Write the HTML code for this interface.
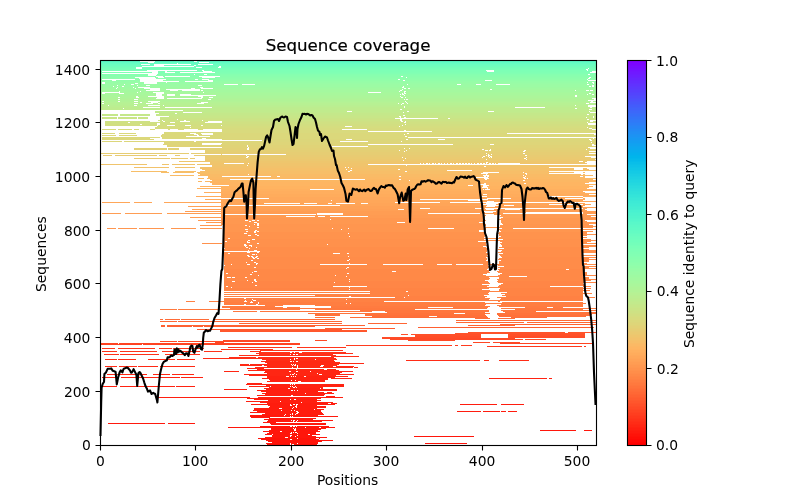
<!DOCTYPE html>
<html><head><meta charset="utf-8"><title>Sequence coverage</title>
<style>html,body{margin:0;padding:0;background:#fff}svg{display:block;will-change:transform}text{font-family:"DejaVu Sans","Liberation Sans",sans-serif;fill:#000}</style></head><body>
<svg width="800" height="500" viewBox="0 0 800 500">
<rect width="800" height="500" fill="#fff"/>
<g shape-rendering="crispEdges" fill="none" stroke-width="1">
<path stroke="#59f8c9" d="M100 60.5h496"/>
<path stroke="#5df9c7" d="M100 61.5h40M155 61.5h39M197 61.5h399"/>
<path stroke="#62fbc4" d="M100 62.5h48M154 62.5h45M209 62.5h387"/>
<path stroke="#66fcc2" d="M100 63.5h77M178 63.5h418"/>
<path stroke="#6bfdc0" d="M100 64.5h41M150 64.5h4M191 64.5h7M213 64.5h383"/>
<path stroke="#6dfdbf" d="M100 65.5h54M164 65.5h30M196 65.5h400"/>
<path stroke="#70febc" d="M100 66.5h42M194 66.5h25M221 66.5h375"/>
<path stroke="#74feba" d="M100 67.5h36M142 67.5h54M202 67.5h16M221 67.5h375"/>
<path stroke="#76ffb9" d="M100 68.5h36M142 68.5h446M589 68.5h7"/>
<path stroke="#79ffb8" d="M100 69.5h486M588 69.5h8"/>
<path stroke="#7dffb6" d="M100 70.5h47M197 70.5h5M204 70.5h282M494 70.5h93M588 70.5h8"/>
<path stroke="#7effb5" d="M100 71.5h2M158 71.5h7M167 71.5h36M212 71.5h275M494 71.5h98"/>
<path stroke="#80ffb4" d="M100 72.5h52M158 72.5h7M175 72.5h5M215 72.5h375"/>
<path stroke="#82ffb3" d="M100 73.5h2M158 73.5h438"/>
<path stroke="#86ffb0" d="M100 74.5h48M157 74.5h37M195 74.5h9M207 74.5h381M590 74.5h6"/>
<path stroke="#88ffaf" d="M100 75.5h48M156 75.5h440"/>
<path stroke="#8afeae" d="M100 76.5h56M163 76.5h2M190 76.5h9M220 76.5h181M403 76.5h193"/>
<path stroke="#8cfead" d="M100 77.5h35M155 77.5h3M164 77.5h38M215 77.5h191M407 77.5h182M591 77.5h5"/>
<path stroke="#8efeac" d="M100 78.5h39M156 78.5h432M590 78.5h6"/>
<path stroke="#90feab" d="M100 79.5h2M135 79.5h5M166 79.5h29M198 79.5h4M209 79.5h189M400 79.5h187M588 79.5h8"/>
<path stroke="#92fda9" d="M100 80.5h12M116 80.5h24M163 80.5h45M213 80.5h190M405 80.5h80M492 80.5h96"/>
<path stroke="#95fda8" d="M100 81.5h40M179 81.5h6M213 81.5h383"/>
<path stroke="#97fca7" d="M100 82.5h2M105 82.5h39M157 82.5h9M167 82.5h420M588 82.5h4M594 82.5h2"/>
<path stroke="#99fca6" d="M100 83.5h2M105 83.5h30M138 83.5h6M157 83.5h436M594 83.5h2"/>
<path stroke="#9bfba5" d="M100 84.5h24M125 84.5h6M134 84.5h90M238 84.5h4M255 84.5h152M408 84.5h49M461 84.5h15M481 84.5h15M510 84.5h77M589 84.5h7"/>
<path stroke="#9cfba4" d="M100 85.5h17M118 85.5h19M138 85.5h8M150 85.5h48M202 85.5h390M594 85.5h2"/>
<path stroke="#9cfba4" d="M100 86.5h13M114 86.5h8M124 86.5h279M404 86.5h185M591 86.5h1M594 86.5h2"/>
<path stroke="#9efaa2" d="M100 87.5h17M118 87.5h15M134 87.5h4M150 87.5h50M203 87.5h199M404 87.5h192"/>
<path stroke="#a0faa1" d="M100 88.5h16M117 88.5h18M136 88.5h8M160 88.5h31M195 88.5h6M213 88.5h191M406 88.5h2M410 88.5h186"/>
<path stroke="#a2f9a0" d="M100 89.5h50M160 89.5h6M200 89.5h202M403 89.5h87M492 89.5h104"/>
<path stroke="#a4f89f" d="M100 90.5h46M160 90.5h10M178 90.5h4M200 90.5h1M203 90.5h197M402 90.5h173M576 90.5h10M589 90.5h1M593 90.5h3"/>
<path stroke="#a4f89f" d="M100 91.5h19M120 91.5h20M141 91.5h258M400 91.5h4M406 91.5h190"/>
<path stroke="#a6f89d" d="M100 92.5h2M120 92.5h17M138 92.5h15M164 92.5h39M204 92.5h164M381 92.5h23M405 92.5h191"/>
<path stroke="#a8f79c" d="M100 93.5h2M105 93.5h14M124 93.5h32M164 93.5h238M403 93.5h1M406 93.5h183M591 93.5h5"/>
<path stroke="#a8f79c" d="M100 94.5h56M162 94.5h5M175 94.5h5M191 94.5h209M401 94.5h1M404 94.5h183M588 94.5h4M594 94.5h2"/>
<path stroke="#aaf69b" d="M100 95.5h56M162 95.5h5M175 95.5h5M216 95.5h188M405 95.5h170M577 95.5h19"/>
<path stroke="#acf59a" d="M100 96.5h36M138 96.5h10M164 96.5h34M203 96.5h197M401 96.5h174M577 96.5h19"/>
<path stroke="#acf59a" d="M100 97.5h18M120 97.5h16M139 97.5h18M164 97.5h37M203 97.5h6M213 97.5h188M403 97.5h2M406 97.5h190"/>
<path stroke="#aef498" d="M100 98.5h56M164 98.5h3M202 98.5h390"/>
<path stroke="#b0f397" d="M100 99.5h18M120 99.5h14M138 99.5h70M211 99.5h193M405 99.5h1M408 99.5h186"/>
<path stroke="#b0f397" d="M100 100.5h488"/>
<path stroke="#b2f396" d="M100 101.5h2M104 101.5h14M120 101.5h14M138 101.5h10M160 101.5h245M406 101.5h185M593 101.5h3"/>
<path stroke="#b5f295" d="M100 102.5h40M142 102.5h9M158 102.5h43M208 102.5h198M407 102.5h183"/>
<path stroke="#b7f193" d="M100 103.5h2M104 103.5h30M138 103.5h8M153 103.5h5M160 103.5h37M204 103.5h194M399 103.5h3M404 103.5h3M408 103.5h178M589 103.5h7"/>
<path stroke="#b7f193" d="M100 104.5h301M402 104.5h194"/>
<path stroke="#b9ef92" d="M100 105.5h8M109 105.5h25M137 105.5h11M160 105.5h3M164 105.5h411M576 105.5h12"/>
<path stroke="#bbee91" d="M100 106.5h304M405 106.5h183"/>
<path stroke="#bced8f" d="M100 107.5h43M160 107.5h5M212 107.5h192M405 107.5h110M545 107.5h45M592 107.5h4"/>
<path stroke="#beec8e" d="M100 108.5h23M124 108.5h451M577 108.5h19"/>
<path stroke="#beec8e" d="M100 109.5h300M402 109.5h187M592 109.5h4"/>
<path stroke="#c0eb8d" d="M183 110.5h413"/>
<path stroke="#c0eb8d" d="M155 111.5h192M352 111.5h55M409 111.5h79M494 111.5h95M590 111.5h6"/>
<path stroke="#c2ea8c" d="M155 112.5h28M202 112.5h201M404 112.5h186"/>
<path stroke="#c4e88a" d="M159 113.5h16M177 113.5h419"/>
<path stroke="#c4e88a" d="M102 114.5h16M120 114.5h30M156 114.5h431M589 114.5h7"/>
<path stroke="#c6e789" d="M102 115.5h16M120 115.5h30M156 115.5h247M405 115.5h191"/>
<path stroke="#c8e688" d="M169 116.5h230M401 116.5h192M594 116.5h2"/>
<path stroke="#c8e688" d="M102 117.5h15M118 117.5h19M138 117.5h10M160 117.5h240M401 117.5h3M406 117.5h180M587 117.5h6M594 117.5h2"/>
<path stroke="#cae486" d="M102 118.5h15M118 118.5h19M138 118.5h10M160 118.5h235M438 118.5h10M450 118.5h146"/>
<path stroke="#cce385" d="M160 119.5h17M178 119.5h222M402 119.5h185M589 119.5h7"/>
<path stroke="#cce385" d="M158 120.5h4M163 120.5h21M186 120.5h16M203 120.5h197M402 120.5h188"/>
<path stroke="#cee184" d="M105 121.5h45M160 121.5h3M165 121.5h15M190 121.5h18M222 121.5h179M403 121.5h2M406 121.5h184M593 121.5h3"/>
<path stroke="#d0e082" d="M105 122.5h23M130 122.5h40M175 122.5h30M222 122.5h182M406 122.5h181M588 122.5h8"/>
<path stroke="#d0e082" d="M105 123.5h52M160 123.5h428"/>
<path stroke="#d2de81" d="M105 124.5h35M142 124.5h15M160 124.5h245M406 124.5h182"/>
<path stroke="#d2de81" d="M105 125.5h52M158 125.5h9M175 125.5h10M191 125.5h10M203 125.5h18M222 125.5h180M403 125.5h193"/>
<path stroke="#d5dd7f" d="M157 126.5h188M352 126.5h47M400 126.5h196"/>
<path stroke="#d5dd7f" d="M155 127.5h35M191 127.5h396M588 127.5h8"/>
<path stroke="#d7db7e" d="M155 128.5h434M592 128.5h4"/>
<path stroke="#d7db7e" d="M102 129.5h14M118 129.5h14M134 129.5h5M150 129.5h5M168 129.5h2M178 129.5h6M198 129.5h5M222 129.5h120M367 129.5h225"/>
<path stroke="#d9da7d" d="M222 130.5h182M406 130.5h190"/>
<path stroke="#d9da7d" d="M222 131.5h146M432 131.5h164"/>
<path stroke="#d9da7d" d="M164 132.5h432"/>
<path stroke="#dbd87b" d="M102 133.5h13M119 133.5h17M164 133.5h26M196 133.5h5M213 133.5h194M409 133.5h98"/>
<path stroke="#dbd87b" d="M162 134.5h32M198 134.5h4M213 134.5h191M405 134.5h189"/>
<path stroke="#dbd87b" d="M102 135.5h14M119 135.5h18M161 135.5h36M199 135.5h397"/>
<path stroke="#dbd87b" d="M161 136.5h25M210 136.5h195M407 136.5h189"/>
<path stroke="#dbd87b" d="M102 137.5h58M162 137.5h246"/>
<path stroke="#dbd87b" d="M102 138.5h48M162 138.5h40M206 138.5h387M594 138.5h2"/>
<path stroke="#dcd67a" d="M102 139.5h52M222 139.5h124M352 139.5h54M408 139.5h30M445 139.5h144M591 139.5h5"/>
<path stroke="#dcd67a" d="M262 140.5h328M592 140.5h4"/>
<path stroke="#dcd67a" d="M102 141.5h20M124 141.5h70M196 141.5h144M368 141.5h33M402 141.5h194"/>
<path stroke="#ded579" d="M164 142.5h427M592 142.5h4"/>
<path stroke="#ded579" d="M164 143.5h38M222 143.5h374"/>
<path stroke="#ded579" d="M163 144.5h39M221 144.5h147M453 144.5h37M494 144.5h98M594 144.5h2"/>
<path stroke="#e0d377" d="M167 145.5h80M248 145.5h344"/>
<path stroke="#e0d377" d="M167 146.5h80M248 146.5h84M368 146.5h228"/>
<path stroke="#e0d377" d="M222 147.5h26M249 147.5h339"/>
<path stroke="#e2d176" d="M134 148.5h33M168 148.5h11M190 148.5h57M249 148.5h155M405 148.5h4M410 148.5h180"/>
<path stroke="#e2d176" d="M134 149.5h33M168 149.5h11M190 149.5h57M249 149.5h233M484 149.5h6M491 149.5h95M587 149.5h9"/>
<path stroke="#e4cf74" d="M205 150.5h194M400 150.5h6M407 150.5h78M488 150.5h1M491 150.5h33M526 150.5h70"/>
<path stroke="#e4cf74" d="M205 151.5h199M405 151.5h118M525 151.5h64"/>
<path stroke="#e6cd73" d="M205 152.5h391"/>
<path stroke="#e6cd73" d="M100 153.5h89M191 153.5h295M487 153.5h36M525 153.5h64"/>
<path stroke="#e6cd73" d="M221 154.5h1M286 154.5h202M489 154.5h2M492 154.5h104"/>
<path stroke="#e8cb72" d="M103 155.5h9M115 155.5h42M159 155.5h8M175 155.5h5M194 155.5h52M247 155.5h239M487 155.5h1M490 155.5h35M527 155.5h69"/>
<path stroke="#e8cb72" d="M205 156.5h42M249 156.5h234M485 156.5h3M489 156.5h1M492 156.5h93"/>
<path stroke="#eaca70" d="M205 157.5h41M248 157.5h154M403 157.5h79M483 157.5h6M490 157.5h1M492 157.5h34M527 157.5h64"/>
<path stroke="#eaca70" d="M134 158.5h36M171 158.5h17M190 158.5h5M205 158.5h200M406 158.5h118M526 158.5h70"/>
<path stroke="#ecc86f" d="M205 159.5h281M487 159.5h39M527 159.5h68"/>
<path stroke="#ecc86f" d="M205 160.5h198M404 160.5h192"/>
<path stroke="#eec66d" d="M179 161.5h400M583 161.5h4"/>
<path stroke="#eec66d" d="M210 162.5h276M488 162.5h97"/>
<path stroke="#f0c46c" d="M210 163.5h14M244 163.5h4M249 163.5h171M421 163.5h2M424 163.5h2M428 163.5h1M430 163.5h2M434 163.5h1M436 163.5h2M440 163.5h1M442 163.5h2M445 163.5h2M448 163.5h2M452 163.5h1M454 163.5h2M458 163.5h1M461 163.5h1M464 163.5h1M467 163.5h1M470 163.5h1M472 163.5h2M475 163.5h2M479 163.5h1M482 163.5h1M485 163.5h1M487 163.5h2M491 163.5h1M494 163.5h1M496 163.5h2M520 163.5h67"/>
<path stroke="#f0c46c" d="M100 164.5h47M162 164.5h7M172 164.5h23M197 164.5h171"/>
<path stroke="#f0c46c" d="M212 165.5h35M248 165.5h158M407 165.5h189"/>
<path stroke="#f2c26b" d="M212 166.5h272M486 166.5h110"/>
<path stroke="#f2c26b" d="M134 167.5h35M175 167.5h20M200 167.5h145M346 167.5h2M349 167.5h200"/>
<path stroke="#f5c069" d="M200 168.5h151M352 168.5h222M583 168.5h4"/>
<path stroke="#f5c069" d="M202 169.5h144M347 169.5h51M400 169.5h174M583 169.5h6"/>
<path stroke="#f5c069" d="M205 170.5h145M352 170.5h95M472 170.5h124"/>
<path stroke="#f7be68" d="M131 171.5h36M175 171.5h21M200 171.5h148M350 171.5h55M407 171.5h142"/>
<path stroke="#f7be68" d="M161 172.5h8M173 172.5h21M197 172.5h286M499 172.5h24M524 172.5h50M583 172.5h2"/>
<path stroke="#f7be68" d="M198 173.5h283M488 173.5h37M527 173.5h22"/>
<path stroke="#f9bb66" d="M200 174.5h48M249 174.5h237M487 174.5h39M527 174.5h54M583 174.5h2"/>
<path stroke="#f9bb66" d="M170 175.5h24M198 175.5h285M489 175.5h34M524 175.5h69"/>
<path stroke="#f9bb66" d="M208 176.5h14M271 176.5h6M280 176.5h119M401 176.5h83M486 176.5h1M489 176.5h36M526 176.5h54M583 176.5h2"/>
<path stroke="#fbb965" d="M208 177.5h268M488 177.5h35M525 177.5h60"/>
<path stroke="#fbb965" d="M198 178.5h6M207 178.5h277M489 178.5h35M526 178.5h1M528 178.5h68"/>
<path stroke="#fcb763" d="M210 179.5h20M365 179.5h34M401 179.5h84M487 179.5h106"/>
<path stroke="#fcb763" d="M212 180.5h197M410 180.5h113M525 180.5h71"/>
<path stroke="#fcb763" d="M198 181.5h4M205 181.5h391"/>
<path stroke="#feb562" d="M210 182.5h379"/>
<path stroke="#feb562" d="M212 183.5h272M486 183.5h38M526 183.5h59"/>
<path stroke="#feb562" d="M212 184.5h268M486 184.5h110"/>
<path stroke="#feb562" d="M229 185.5h239M473 185.5h10M489 185.5h100"/>
<path stroke="#ffb360" d="M200 186.5h283M487 186.5h106"/>
<path stroke="#ffb360" d="M221 187.5h261M488 187.5h101"/>
<path stroke="#ffb360" d="M197 188.5h290M488 188.5h99"/>
<path stroke="#ffb05f" d="M221 189.5h89M334 189.5h149M484 189.5h1M490 189.5h106"/>
<path stroke="#ffb05f" d="M221 190.5h375"/>
<path stroke="#ffae5e" d="M221 191.5h362"/>
<path stroke="#ffae5e" d="M204 192.5h381"/>
<path stroke="#ffae5e" d="M221 193.5h375"/>
<path stroke="#ffac5c" d="M221 194.5h262M487 194.5h102"/>
<path stroke="#ffac5c" d="M221 195.5h375"/>
<path stroke="#ffac5c" d="M196 196.5h286M487 196.5h62M583 196.5h13"/>
<path stroke="#ffa95b" d="M221 197.5h362"/>
<path stroke="#ffa95b" d="M269 198.5h218M511 198.5h54M583 198.5h2"/>
<path stroke="#ffa95b" d="M205 199.5h215M480 199.5h1M488 199.5h97"/>
<path stroke="#ffa759" d="M221 200.5h110M332 200.5h136M480 200.5h103"/>
<path stroke="#ffa759" d="M221 201.5h266M494 201.5h102"/>
<path stroke="#ffa759" d="M102 202.5h28M134 202.5h18M164 202.5h231M440 202.5h10"/>
<path stroke="#ffa558" d="M221 203.5h43M300 203.5h4M317 203.5h11M332 203.5h4M355 203.5h6M368 203.5h118M498 203.5h87"/>
<path stroke="#ffa558" d="M221 204.5h262M496 204.5h53M583 204.5h8"/>
<path stroke="#ffa558" d="M221 205.5h4M340 205.5h147M499 205.5h5M514 205.5h71"/>
<path stroke="#ffa256" d="M188 206.5h298M495 206.5h88"/>
<path stroke="#ffa256" d="M221 207.5h375"/>
<path stroke="#ffa256" d="M221 208.5h199M430 208.5h45M483 208.5h2M583 208.5h4"/>
<path stroke="#ffa055" d="M192 209.5h206M404 209.5h82M494 209.5h11M520 209.5h65"/>
<path stroke="#ffa055" d="M221 210.5h366"/>
<path stroke="#ff9d53" d="M185 211.5h299M496 211.5h100"/>
<path stroke="#ff9d53" d="M221 212.5h264M493 212.5h33M583 212.5h13"/>
<path stroke="#ff9d53" d="M102 213.5h19M125 213.5h37M167 213.5h150M343 213.5h85M480 213.5h23M583 213.5h13"/>
<path stroke="#ff9d53" d="M221 214.5h4M316 214.5h1M343 214.5h140M494 214.5h93"/>
<path stroke="#ff9b52" d="M221 215.5h265M501 215.5h95"/>
<path stroke="#ff9b52" d="M221 216.5h65M315 216.5h3M325 216.5h5M368 216.5h117M500 216.5h91"/>
<path stroke="#ff9b52" d="M190 217.5h295M503 217.5h93"/>
<path stroke="#ff9850" d="M221 218.5h263M501 218.5h95"/>
<path stroke="#ff9850" d="M221 219.5h109M331 219.5h154M498 219.5h98"/>
<path stroke="#ff9850" d="M198 220.5h47M248 220.5h4M255 220.5h2M259 220.5h227M501 220.5h84"/>
<path stroke="#ff9850" d="M221 221.5h28M251 221.5h234M501 221.5h86"/>
<path stroke="#ff9850" d="M206 222.5h48M257 222.5h140M405 222.5h74M501 222.5h95"/>
<path stroke="#ff9850" d="M221 223.5h36M259 223.5h226M502 223.5h94"/>
<path stroke="#ff964f" d="M221 224.5h33M255 224.5h2M259 224.5h227M503 224.5h86"/>
<path stroke="#ff964f" d="M200 225.5h22M224 225.5h21M247 225.5h10M259 225.5h227M500 225.5h93"/>
<path stroke="#ff964f" d="M224 226.5h25M250 226.5h234M500 226.5h96"/>
<path stroke="#ff964f" d="M224 227.5h33M259 227.5h334"/>
<path stroke="#ff964f" d="M107 228.5h9M118 228.5h19M139 228.5h25M171 228.5h25M200 228.5h22M224 228.5h108M333 228.5h15M349 228.5h79M454 228.5h32M502 228.5h11M582 228.5h1"/>
<path stroke="#ff964f" d="M224 229.5h21M248 229.5h93M342 229.5h144M499 229.5h97"/>
<path stroke="#ff964f" d="M224 230.5h31M257 230.5h222M500 230.5h83"/>
<path stroke="#ff964f" d="M224 231.5h22M248 231.5h6M256 231.5h1M259 231.5h220M501 231.5h92"/>
<path stroke="#ff934d" d="M224 232.5h30M256 232.5h230M499 232.5h88"/>
<path stroke="#ff934d" d="M224 233.5h20M247 233.5h101M349 233.5h136M498 233.5h89"/>
<path stroke="#ff934d" d="M224 234.5h31M257 234.5h229M499 234.5h97"/>
<path stroke="#ff934d" d="M224 235.5h24M251 235.5h6M259 235.5h228M499 235.5h88"/>
<path stroke="#ff934d" d="M224 236.5h125M350 236.5h135M501 236.5h82"/>
<path stroke="#ff934d" d="M224 237.5h260M499 237.5h88"/>
<path stroke="#ff934d" d="M224 238.5h4M230 238.5h353"/>
<path stroke="#ff914c" d="M224 239.5h28M255 239.5h229M503 239.5h88"/>
<path stroke="#ff914c" d="M224 240.5h24M250 240.5h346"/>
<path stroke="#ff914c" d="M224 241.5h1M227 241.5h20M248 241.5h230M500 241.5h91"/>
<path stroke="#ff914c" d="M224 242.5h23M250 242.5h238M502 242.5h85"/>
<path stroke="#ff914c" d="M202 243.5h20M224 243.5h33M259 243.5h227M500 243.5h96"/>
<path stroke="#ff914c" d="M224 244.5h20M246 244.5h81M328 244.5h158M501 244.5h82"/>
<path stroke="#ff914c" d="M224 245.5h20M247 245.5h2M252 245.5h235M502 245.5h94"/>
<path stroke="#ff914c" d="M224 246.5h21M246 246.5h5M252 246.5h231M502 246.5h94"/>
<path stroke="#ff8e4a" d="M224 247.5h22M248 247.5h8M257 247.5h229M499 247.5h90"/>
<path stroke="#ff8e4a" d="M225 248.5h24M250 248.5h237M504 248.5h79"/>
<path stroke="#ff8e4a" d="M224 249.5h264M498 249.5h91"/>
<path stroke="#ff8e4a" d="M224 250.5h24M249 250.5h5M257 250.5h230M502 250.5h94"/>
<path stroke="#ff8e4a" d="M260 251.5h227M501 251.5h95"/>
<path stroke="#ff8e4a" d="M224 252.5h23M250 252.5h7M259 252.5h227M498 252.5h98"/>
<path stroke="#ff8e4a" d="M224 253.5h4M230 253.5h103M340 253.5h7M349 253.5h139M503 253.5h80"/>
<path stroke="#ff8e4a" d="M224 254.5h28M255 254.5h1M257 254.5h231M499 254.5h84"/>
<path stroke="#ff8e4a" d="M224 255.5h23M249 255.5h238M500 255.5h96"/>
<path stroke="#ff8e4a" d="M224 256.5h24M250 256.5h1M253 256.5h3M258 256.5h90M349 256.5h139M501 256.5h82"/>
<path stroke="#ff8c49" d="M224 257.5h28M254 257.5h1M257 257.5h229M502 257.5h94"/>
<path stroke="#ff8c49" d="M224 258.5h29M255 258.5h2M259 258.5h228M499 258.5h90"/>
<path stroke="#ff8c49" d="M224 259.5h125M350 259.5h137M498 259.5h98"/>
<path stroke="#ff8c49" d="M224 260.5h27M253 260.5h94M349 260.5h137M501 260.5h88"/>
<path stroke="#ff8c49" d="M224 261.5h264M499 261.5h90"/>
<path stroke="#ff8c49" d="M224 262.5h22M247 262.5h7M256 262.5h232M499 262.5h84"/>
<path stroke="#ff8c49" d="M224 263.5h32M258 263.5h91M350 263.5h138M499 263.5h88"/>
<path stroke="#ff8c49" d="M224 264.5h7M232 264.5h15M250 264.5h6M257 264.5h63M367 264.5h16M423 264.5h14M452 264.5h4M483 264.5h113"/>
<path stroke="#ff8c49" d="M225 265.5h263M498 265.5h85"/>
<path stroke="#ff8c49" d="M224 266.5h265M504 266.5h92"/>
<path stroke="#ff8c49" d="M224 267.5h30M256 267.5h91M349 267.5h140M498 267.5h91"/>
<path stroke="#ff8c49" d="M224 268.5h122M347 268.5h141M500 268.5h96"/>
<path stroke="#ff8947" d="M224 269.5h263M498 269.5h68M569 269.5h16"/>
<path stroke="#ff8947" d="M224 270.5h265M499 270.5h86"/>
<path stroke="#ff8947" d="M224 271.5h30M257 271.5h135M396 271.5h93M497 271.5h86"/>
<path stroke="#ff8947" d="M224 272.5h28M253 272.5h237M498 272.5h89"/>
<path stroke="#ff8947" d="M224 273.5h2M228 273.5h119M349 273.5h138M502 273.5h85"/>
<path stroke="#ff8947" d="M224 274.5h26M252 274.5h231M500 274.5h87"/>
<path stroke="#ff8947" d="M224 275.5h34M259 275.5h76M336 275.5h150M498 275.5h98"/>
<path stroke="#ff8947" d="M224 276.5h122M347 276.5h162M527 276.5h56"/>
<path stroke="#ff8947" d="M224 277.5h3M231 277.5h1M235 277.5h10M247 277.5h242M499 277.5h90"/>
<path stroke="#ff8947" d="M224 278.5h266M499 278.5h90"/>
<path stroke="#ff8947" d="M224 279.5h30M256 279.5h93M350 279.5h139M497 279.5h99"/>
<path stroke="#ff8947" d="M224 280.5h23M248 280.5h6M256 280.5h229M498 280.5h93"/>
<path stroke="#ff8646" d="M224 281.5h8M235 281.5h20M257 281.5h92M350 281.5h138M497 281.5h88"/>
<path stroke="#ff8646" d="M224 282.5h28M253 282.5h81M335 282.5h154M498 282.5h98"/>
<path stroke="#ff8646" d="M224 283.5h266M503 283.5h80"/>
<path stroke="#ff8646" d="M224 284.5h258M501 284.5h84"/>
<path stroke="#ff8646" d="M224 285.5h31M257 285.5h232M499 285.5h86"/>
<path stroke="#ff8646" d="M224 286.5h2M228 286.5h105M367 286.5h120M498 286.5h52M583 286.5h8"/>
<path stroke="#ff8646" d="M224 287.5h7M232 287.5h117M350 287.5h233"/>
<path stroke="#ff8444" d="M224 288.5h265M500 288.5h91"/>
<path stroke="#ff8444" d="M224 289.5h125M350 289.5h132M499 289.5h84"/>
<path stroke="#ff8444" d="M224 290.5h266M499 290.5h91"/>
<path stroke="#ff8444" d="M370 291.5h36M408 291.5h175"/>
<path stroke="#ff8444" d="M224 292.5h265M507 292.5h76"/>
<path stroke="#ff8444" d="M370 293.5h118M501 293.5h91"/>
<path stroke="#ff8444" d="M224 294.5h265M505 294.5h78"/>
<path stroke="#ff8444" d="M315 295.5h93M409 295.5h75M502 295.5h81"/>
<path stroke="#ff8143" d="M224 296.5h125M351 296.5h136M506 296.5h77"/>
<path stroke="#ff8143" d="M395 297.5h9M405 297.5h80M497 297.5h86M587 297.5h8"/>
<path stroke="#ff8143" d="M224 298.5h20M246 298.5h244M501 298.5h82"/>
<path stroke="#ff8143" d="M224 299.5h28M253 299.5h93M347 299.5h142M500 299.5h83"/>
<path stroke="#ff8143" d="M224 300.5h21M246 300.5h7M256 300.5h327"/>
<path stroke="#ff8143" d="M186 301.5h9M209 301.5h35M247 301.5h4M252 301.5h132M498 301.5h2"/>
<path stroke="#ff7e41" d="M224 302.5h26M253 302.5h5M259 302.5h226M502 302.5h81"/>
<path stroke="#ff7e41" d="M224 303.5h34M259 303.5h87M347 303.5h3M351 303.5h235"/>
<path stroke="#ff7e41" d="M224 304.5h20M246 304.5h10M258 304.5h228M501 304.5h82"/>
<path stroke="#ff7e41" d="M265 305.5h18M315 305.5h170M497 305.5h86"/>
<path stroke="#ff7b40" d="M222 306.5h53M331 306.5h159M499 306.5h84"/>
<path stroke="#ff7b40" d="M222 307.5h61M287 307.5h13M331 307.5h97M453 307.5h35M525 307.5h22M553 307.5h10"/>
<path stroke="#ff793e" d="M230 308.5h257M501 308.5h95"/>
<path stroke="#ff793e" d="M160 309.5h17M178 309.5h122M315 309.5h100M515 309.5h68"/>
<path stroke="#ff763d" d="M360 310.5h129M501 310.5h95"/>
<path stroke="#ff763d" d="M233 311.5h24M260 311.5h112M385 311.5h104M503 311.5h33"/>
<path stroke="#ff763d" d="M387 312.5h98M505 312.5h91"/>
<path stroke="#ff733b" d="M308 313.5h146M465 313.5h25M497 313.5h99"/>
<path stroke="#ff733b" d="M315 314.5h25M365 314.5h120M497 314.5h95"/>
<path stroke="#ff703a" d="M315 315.5h25M365 315.5h121M498 315.5h92"/>
<path stroke="#ff703a" d="M372 316.5h57M437 316.5h50M499 316.5h87"/>
<path stroke="#ff6d38" d="M315 317.5h20M350 317.5h138M511 317.5h36"/>
<path stroke="#ff6d38" d="M475 318.5h15M498 318.5h17"/>
<path stroke="#ff6b37" d="M160 319.5h3M165 319.5h15M181 319.5h28M215 319.5h120"/>
<path stroke="#ff6b37" d="M456 320.5h140"/>
<path stroke="#ff6835" d="M160 321.5h17M178 321.5h164"/>
<path stroke="#ff6835" d="M456 322.5h68M527 322.5h69"/>
<path stroke="#ff6533" d="M239 323.5h103M368 323.5h39"/>
<path stroke="#ff6232" d="M500 324.5h96"/>
<path stroke="#ff6232" d="M161 325.5h4M167 325.5h198M468 325.5h47"/>
<path stroke="#ff5f30" d="M161 326.5h4M167 326.5h25M193 326.5h10M204 326.5h111"/>
<path stroke="#ff5f30" d="M418 327.5h176"/>
<path stroke="#ff5c2f" d="M325 328.5h70"/>
<path stroke="#ff592d" d="M197 329.5h145"/>
<path stroke="#ff592d" d="M220 330.5h147"/>
<path stroke="#ff562c" d="M220 331.5h147"/>
<path stroke="#ff532a" d="M468 332.5h97M568 332.5h28"/>
<path stroke="#ff532a" d="M455 333.5h130"/>
<path stroke="#ff5029" d="M401 334.5h7M411 334.5h70M508 334.5h77"/>
<path stroke="#ff5029" d="M415 335.5h66M508 335.5h77"/>
<path stroke="#ff4d27" d="M415 336.5h66M508 336.5h77"/>
<path stroke="#ff4d27" d="M382 337.5h99M508 337.5h77"/>
<path stroke="#ff4a26" d="M382 338.5h133"/>
<path stroke="#ff4a26" d="M390 339.5h133M525 339.5h21"/>
<path stroke="#ff4a26" d="M223 340.5h67M315 340.5h12M408 340.5h47"/>
<path stroke="#ff4724" d="M160 341.5h17M178 341.5h112"/>
<path stroke="#ff4724" d="M215 342.5h9M473 342.5h17M493 342.5h27"/>
<path stroke="#ff4422" d="M101 343.5h17M119 343.5h181M500 343.5h93"/>
<path stroke="#ff4121" d="M101 344.5h41M143 344.5h157"/>
<path stroke="#ff3b1e" d="M346 345.5h106M455 345.5h3M461 345.5h11"/>
<path stroke="#ff381c" d="M487 346.5h95M584 346.5h2"/>
<path stroke="#ff351b" d="M228 347.5h64M297 347.5h49"/>
<path stroke="#ff351b" d="M102 348.5h13M118 348.5h37M159 348.5h13M173 348.5h31"/>
<path stroke="#ff351b" d="M221 349.5h52"/>
<path stroke="#ff3219" d="M260 350.5h83"/>
<path stroke="#ff3219" d="M102 351.5h15M120 351.5h37M162 351.5h38M204 351.5h18M250 351.5h11"/>
<path stroke="#ff3219" d="M259 352.5h31M292 352.5h2M295 352.5h4M302 352.5h44"/>
<path stroke="#ff2f18" d="M256 353.5h97"/>
<path stroke="#ff2f18" d="M104 354.5h15M120 354.5h39M165 354.5h35M259 354.5h31M291 354.5h2M295 354.5h1M298 354.5h35"/>
<path stroke="#ff2f18" d="M239 355.5h97"/>
<path stroke="#ff2f18" d="M331 356.5h28"/>
<path stroke="#ff2c16" d="M229 357.5h27M258 357.5h76"/>
<path stroke="#ff2c16" d="M203 358.5h91M295 358.5h1M298 358.5h38"/>
<path stroke="#ff2c16" d="M105 359.5h12M118 359.5h18M148 359.5h27M177 359.5h18M262 359.5h28M291 359.5h3M295 359.5h20M316 359.5h21"/>
<path stroke="#ff2c16" d="M266 360.5h68M406 360.5h74M484 360.5h5M499 360.5h30"/>
<path stroke="#ff2914" d="M261 361.5h29M292 361.5h1M294 361.5h2M298 361.5h37"/>
<path stroke="#ff2914" d="M265 362.5h75"/>
<path stroke="#ff2914" d="M267 363.5h97"/>
<path stroke="#ff2914" d="M240 364.5h9M250 364.5h41M292 364.5h1M294 364.5h1M296 364.5h43"/>
<path stroke="#ff2914" d="M240 365.5h22M264 365.5h28M293 365.5h1M296 365.5h1M298 365.5h23M324 365.5h13"/>
<path stroke="#ff2914" d="M105 366.5h12M119 366.5h18M138 366.5h20M160 366.5h35M267 366.5h30M298 366.5h22M323 366.5h10M336 366.5h18"/>
<path stroke="#ff2914" d="M255 367.5h37M293 367.5h4M298 367.5h55M354 367.5h4"/>
<path stroke="#ff2613" d="M247 368.5h17"/>
<path stroke="#ff2613" d="M257 369.5h39M297 369.5h27M327 369.5h9"/>
<path stroke="#ff2613" d="M248 370.5h91"/>
<path stroke="#ff2613" d="M224 371.5h15M265 371.5h24M291 371.5h5M298 371.5h12M311 371.5h42"/>
<path stroke="#ff2613" d="M264 372.5h78"/>
<path stroke="#ff2613" d="M267 373.5h27M295 373.5h22M318 373.5h22"/>
<path stroke="#ff2613" d="M107 374.5h40M153 374.5h17M172 374.5h22M244 374.5h46M291 374.5h1M294 374.5h2M297 374.5h22M322 374.5h32"/>
<path stroke="#ff2613" d="M249 375.5h87"/>
<path stroke="#ff2211" d="M267 376.5h19M289 376.5h2M292 376.5h1M294 376.5h1M296 376.5h8M306 376.5h42"/>
<path stroke="#ff2211" d="M102 377.5h14M121 377.5h59M181 377.5h22M267 377.5h68"/>
<path stroke="#ff2211" d="M262 378.5h66M331 378.5h21M489 378.5h58M549 378.5h3"/>
<path stroke="#ff2211" d="M269 379.5h59"/>
<path stroke="#ff2211" d="M270 380.5h21M292 380.5h3M296 380.5h29"/>
<path stroke="#ff2211" d="M267 381.5h31M301 381.5h24"/>
<path stroke="#ff2211" d="M247 383.5h15"/>
<path stroke="#ff2211" d="M246 384.5h44M291 384.5h1M293 384.5h1M295 384.5h49"/>
<path stroke="#ff2211" d="M266 385.5h78"/>
<path stroke="#ff2211" d="M103 386.5h14M120 386.5h55M176 386.5h19M249 386.5h21M271 386.5h19M291 386.5h1M293 386.5h2M296 386.5h48"/>
<path stroke="#ff2211" d="M269 387.5h24M295 387.5h1M297 387.5h26"/>
<path stroke="#ff1f10" d="M264 388.5h24M290 388.5h30M321 388.5h2"/>
<path stroke="#ff1f10" d="M224 389.5h23M266 389.5h71"/>
<path stroke="#ff1f10" d="M257 390.5h34M293 390.5h1M295 390.5h2M298 390.5h39"/>
<path stroke="#ff1f10" d="M261 391.5h57"/>
<path stroke="#ff1f10" d="M266 392.5h58M327 392.5h5"/>
<path stroke="#ff1f10" d="M262 393.5h43M306 393.5h28"/>
<path stroke="#ff1f10" d="M265 394.5h60"/>
<path stroke="#ff1f10" d="M257 395.5h34M293 395.5h31"/>
<path stroke="#ff1f10" d="M326 396.5h9"/>
<path stroke="#ff1f10" d="M158 397.5h92M258 397.5h85"/>
<path stroke="#ff1f10" d="M247 398.5h74"/>
<path stroke="#ff1f10" d="M254 399.5h36M291 399.5h3M296 399.5h21"/>
<path stroke="#ff1f10" d="M268 400.5h53"/>
<path stroke="#ff1f10" d="M246 401.5h34M281 401.5h36"/>
<path stroke="#ff1f10" d="M260 402.5h41M302 402.5h31"/>
<path stroke="#ff1c0e" d="M267 403.5h61M331 403.5h6"/>
<path stroke="#ff1c0e" d="M251 404.5h39M291 404.5h2M295 404.5h1M298 404.5h37M460 404.5h37M501 404.5h23"/>
<path stroke="#ff1c0e" d="M268 405.5h22M292 405.5h4M297 405.5h20"/>
<path stroke="#ff1c0e" d="M270 406.5h25M297 406.5h29"/>
<path stroke="#ff1c0e" d="M269 407.5h24M294 407.5h2M297 407.5h29"/>
<path stroke="#ff1c0e" d="M254 408.5h25M282 408.5h10M293 408.5h24"/>
<path stroke="#ff1c0e" d="M254 409.5h60M315 409.5h9"/>
<path stroke="#ff1c0e" d="M253 410.5h28M282 410.5h9M292 410.5h2M295 410.5h26"/>
<path stroke="#ff1c0e" d="M257 411.5h39M298 411.5h23M457 411.5h24M483 411.5h17M501 411.5h5M508 411.5h9"/>
<path stroke="#ff1c0e" d="M250 412.5h47M299 412.5h23"/>
<path stroke="#ff1c0e" d="M265 413.5h27M293 413.5h3M298 413.5h25"/>
<path stroke="#ff1c0e" d="M262 414.5h23M286 414.5h4M291 414.5h1M293 414.5h2M296 414.5h28"/>
<path stroke="#ff190d" d="M250 415.5h34M285 415.5h33"/>
<path stroke="#ff190d" d="M250 416.5h40M291 416.5h1M293 416.5h45"/>
<path stroke="#ff190d" d="M251 417.5h19"/>
<path stroke="#ff190d" d="M269 418.5h47"/>
<path stroke="#ff190d" d="M264 419.5h49"/>
<path stroke="#ff190d" d="M268 420.5h23M292 420.5h1M295 420.5h2M298 420.5h35"/>
<path stroke="#ff190d" d="M267 421.5h26M294 421.5h2M297 421.5h25"/>
<path stroke="#ff190d" d="M263 422.5h13"/>
<path stroke="#ff190d" d="M108 423.5h57M168 423.5h27M270 423.5h56"/>
<path stroke="#ff190d" d="M271 424.5h55"/>
<path stroke="#ff160b" d="M260 426.5h30M292 426.5h1M295 426.5h1M297 426.5h32"/>
<path stroke="#ff160b" d="M228 427.5h77M306 427.5h13M321 427.5h14"/>
<path stroke="#ff160b" d="M271 428.5h22M294 428.5h1M296 428.5h30"/>
<path stroke="#ff160b" d="M271 429.5h23M296 429.5h25"/>
<path stroke="#ff160b" d="M269 430.5h25M296 430.5h22M540 430.5h36M584 430.5h8"/>
<path stroke="#ff160b" d="M263 431.5h17M282 431.5h38"/>
<path stroke="#ff160b" d="M269 432.5h22M292 432.5h1M294 432.5h1M297 432.5h19"/>
<path stroke="#ff160b" d="M267 433.5h23M292 433.5h5M298 433.5h18"/>
<path stroke="#ff160b" d="M265 434.5h7M273 434.5h35M310 434.5h10"/>
<path stroke="#ff160b" d="M272 435.5h18M292 435.5h5M298 435.5h14"/>
<path stroke="#ff160b" d="M272 436.5h18M291 436.5h4M296 436.5h20M414 436.5h60"/>
<path stroke="#ff160b" d="M265 437.5h20M288 437.5h39"/>
<path stroke="#ff1309" d="M258 438.5h39M298 438.5h18M319 438.5h1"/>
<path stroke="#ff1309" d="M261 439.5h29M292 439.5h27"/>
<path stroke="#ff1309" d="M266 440.5h67"/>
<path stroke="#ff1309" d="M268 441.5h54"/>
<path stroke="#ff1309" d="M272 442.5h46"/>
<path stroke="#ff1309" d="M266 443.5h24M291 443.5h6M298 443.5h20M425 443.5h42"/>
<path stroke="#ff1309" d="M267 444.5h23M291 444.5h1M294 444.5h23"/>
</g>
<g shape-rendering="crispEdges">
<rect x="627" y="60" width="19.25" height="1" fill="#8000ff"/><rect x="627" y="61" width="19.25" height="1" fill="#8000ff"/><rect x="627" y="62" width="19.25" height="1" fill="#7e03ff"/><rect x="627" y="63" width="19.25" height="1" fill="#7c06ff"/><rect x="627" y="64" width="19.25" height="1" fill="#7c06ff"/><rect x="627" y="65" width="19.25" height="1" fill="#7a09ff"/><rect x="627" y="66" width="19.25" height="1" fill="#770dff"/><rect x="627" y="67" width="19.25" height="1" fill="#770dff"/><rect x="627" y="68" width="19.25" height="1" fill="#7510ff"/><rect x="627" y="69" width="19.25" height="1" fill="#7313ff"/><rect x="627" y="70" width="19.25" height="1" fill="#7313ff"/><rect x="627" y="71" width="19.25" height="1" fill="#7216ff"/><rect x="627" y="72" width="19.25" height="1" fill="#7019ff"/><rect x="627" y="73" width="19.25" height="1" fill="#7019ff"/><rect x="627" y="74" width="19.25" height="1" fill="#6e1cff"/><rect x="627" y="75" width="19.25" height="1" fill="#6c1fff"/><rect x="627" y="76" width="19.25" height="1" fill="#6c1fff"/><rect x="627" y="77" width="19.25" height="1" fill="#6a22fe"/><rect x="627" y="78" width="19.25" height="1" fill="#6726fe"/><rect x="627" y="79" width="19.25" height="1" fill="#6726fe"/><rect x="627" y="80" width="19.25" height="1" fill="#6529fe"/><rect x="627" y="81" width="19.25" height="1" fill="#632cfe"/><rect x="627" y="82" width="19.25" height="1" fill="#632cfe"/><rect x="627" y="83" width="19.25" height="1" fill="#622ffe"/><rect x="627" y="84" width="19.25" height="1" fill="#6032fe"/><rect x="627" y="85" width="19.25" height="1" fill="#6032fe"/><rect x="627" y="86" width="19.25" height="1" fill="#5e35fe"/><rect x="627" y="87" width="19.25" height="1" fill="#5c38fd"/><rect x="627" y="88" width="19.25" height="1" fill="#5c38fd"/><rect x="627" y="89" width="19.25" height="1" fill="#5a3bfd"/><rect x="627" y="90" width="19.25" height="1" fill="#573efd"/><rect x="627" y="91" width="19.25" height="1" fill="#573efd"/><rect x="627" y="92" width="19.25" height="1" fill="#5541fd"/><rect x="627" y="93" width="19.25" height="1" fill="#5344fd"/><rect x="627" y="94" width="19.25" height="1" fill="#5344fd"/><rect x="627" y="95" width="19.25" height="1" fill="#5247fc"/><rect x="627" y="96" width="19.25" height="1" fill="#504afc"/><rect x="627" y="97" width="19.25" height="1" fill="#504afc"/><rect x="627" y="98" width="19.25" height="1" fill="#4e4dfc"/><rect x="627" y="99" width="19.25" height="1" fill="#4c50fc"/><rect x="627" y="100" width="19.25" height="1" fill="#4c50fc"/><rect x="627" y="101" width="19.25" height="1" fill="#4a53fb"/><rect x="627" y="102" width="19.25" height="1" fill="#4756fb"/><rect x="627" y="103" width="19.25" height="1" fill="#4756fb"/><rect x="627" y="104" width="19.25" height="1" fill="#4559fb"/><rect x="627" y="105" width="19.25" height="1" fill="#435cfb"/><rect x="627" y="106" width="19.25" height="1" fill="#435cfb"/><rect x="627" y="107" width="19.25" height="1" fill="#425ffa"/><rect x="627" y="108" width="19.25" height="1" fill="#4062fa"/><rect x="627" y="109" width="19.25" height="1" fill="#4062fa"/><rect x="627" y="110" width="19.25" height="1" fill="#3e65fa"/><rect x="627" y="111" width="19.25" height="1" fill="#3c68f9"/><rect x="627" y="112" width="19.25" height="1" fill="#3c68f9"/><rect x="627" y="113" width="19.25" height="1" fill="#3a6bf9"/><rect x="627" y="114" width="19.25" height="1" fill="#376df9"/><rect x="627" y="115" width="19.25" height="1" fill="#376df9"/><rect x="627" y="116" width="19.25" height="1" fill="#3570f8"/><rect x="627" y="117" width="19.25" height="1" fill="#3373f8"/><rect x="627" y="118" width="19.25" height="1" fill="#3373f8"/><rect x="627" y="119" width="19.25" height="1" fill="#3176f8"/><rect x="627" y="120" width="19.25" height="1" fill="#3079f7"/><rect x="627" y="121" width="19.25" height="1" fill="#3079f7"/><rect x="627" y="122" width="19.25" height="1" fill="#2e7bf7"/><rect x="627" y="123" width="19.25" height="1" fill="#2c7ef7"/><rect x="627" y="124" width="19.25" height="1" fill="#2c7ef7"/><rect x="627" y="125" width="19.25" height="1" fill="#2a81f6"/><rect x="627" y="126" width="19.25" height="1" fill="#2784f6"/><rect x="627" y="127" width="19.25" height="1" fill="#2784f6"/><rect x="627" y="128" width="19.25" height="1" fill="#2586f5"/><rect x="627" y="129" width="19.25" height="1" fill="#2389f5"/><rect x="627" y="130" width="19.25" height="1" fill="#2389f5"/><rect x="627" y="131" width="19.25" height="1" fill="#218cf4"/><rect x="627" y="132" width="19.25" height="1" fill="#208ef4"/><rect x="627" y="133" width="19.25" height="1" fill="#208ef4"/><rect x="627" y="134" width="19.25" height="1" fill="#1e91f3"/><rect x="627" y="135" width="19.25" height="1" fill="#1c93f3"/><rect x="627" y="136" width="19.25" height="1" fill="#1c93f3"/><rect x="627" y="137" width="19.25" height="1" fill="#1a96f3"/><rect x="627" y="138" width="19.25" height="1" fill="#1798f2"/><rect x="627" y="139" width="19.25" height="1" fill="#1798f2"/><rect x="627" y="140" width="19.25" height="1" fill="#159bf2"/><rect x="627" y="141" width="19.25" height="1" fill="#139df1"/><rect x="627" y="142" width="19.25" height="1" fill="#139df1"/><rect x="627" y="143" width="19.25" height="1" fill="#11a0f1"/><rect x="627" y="144" width="19.25" height="1" fill="#10a2f0"/><rect x="627" y="145" width="19.25" height="1" fill="#10a2f0"/><rect x="627" y="146" width="19.25" height="1" fill="#0ea5ef"/><rect x="627" y="147" width="19.25" height="1" fill="#0ca7ef"/><rect x="627" y="148" width="19.25" height="1" fill="#0ca7ef"/><rect x="627" y="149" width="19.25" height="1" fill="#0aa9ee"/><rect x="627" y="150" width="19.25" height="1" fill="#07acee"/><rect x="627" y="151" width="19.25" height="1" fill="#07acee"/><rect x="627" y="152" width="19.25" height="1" fill="#05aeed"/><rect x="627" y="153" width="19.25" height="1" fill="#03b0ed"/><rect x="627" y="154" width="19.25" height="1" fill="#03b0ed"/><rect x="627" y="155" width="19.25" height="1" fill="#01b3ec"/><rect x="627" y="156" width="19.25" height="1" fill="#00b5eb"/><rect x="627" y="157" width="19.25" height="1" fill="#00b5eb"/><rect x="627" y="158" width="19.25" height="1" fill="#02b7eb"/><rect x="627" y="159" width="19.25" height="1" fill="#04b9ea"/><rect x="627" y="160" width="19.25" height="1" fill="#04b9ea"/><rect x="627" y="161" width="19.25" height="1" fill="#06bbea"/><rect x="627" y="162" width="19.25" height="1" fill="#09bee9"/><rect x="627" y="163" width="19.25" height="1" fill="#09bee9"/><rect x="627" y="164" width="19.25" height="1" fill="#0bc0e8"/><rect x="627" y="165" width="19.25" height="1" fill="#0dc2e8"/><rect x="627" y="166" width="19.25" height="1" fill="#0dc2e8"/><rect x="627" y="167" width="19.25" height="1" fill="#0fc4e7"/><rect x="627" y="168" width="19.25" height="1" fill="#10c6e6"/><rect x="627" y="169" width="19.25" height="1" fill="#10c6e6"/><rect x="627" y="170" width="19.25" height="1" fill="#12c8e6"/><rect x="627" y="171" width="19.25" height="1" fill="#14cae5"/><rect x="627" y="172" width="19.25" height="1" fill="#14cae5"/><rect x="627" y="173" width="19.25" height="1" fill="#16cbe4"/><rect x="627" y="174" width="19.25" height="1" fill="#19cde4"/><rect x="627" y="175" width="19.25" height="1" fill="#19cde4"/><rect x="627" y="176" width="19.25" height="1" fill="#1bcfe3"/><rect x="627" y="177" width="19.25" height="1" fill="#1dd1e2"/><rect x="627" y="178" width="19.25" height="1" fill="#1dd1e2"/><rect x="627" y="179" width="19.25" height="1" fill="#1fd3e1"/><rect x="627" y="180" width="19.25" height="1" fill="#20d5e1"/><rect x="627" y="181" width="19.25" height="1" fill="#20d5e1"/><rect x="627" y="182" width="19.25" height="1" fill="#22d6e0"/><rect x="627" y="183" width="19.25" height="1" fill="#24d8df"/><rect x="627" y="184" width="19.25" height="1" fill="#24d8df"/><rect x="627" y="185" width="19.25" height="1" fill="#26dade"/><rect x="627" y="186" width="19.25" height="1" fill="#29dbde"/><rect x="627" y="187" width="19.25" height="1" fill="#29dbde"/><rect x="627" y="188" width="19.25" height="1" fill="#2bdddd"/><rect x="627" y="189" width="19.25" height="1" fill="#2ddedc"/><rect x="627" y="190" width="19.25" height="1" fill="#2ddedc"/><rect x="627" y="191" width="19.25" height="1" fill="#2fe0db"/><rect x="627" y="192" width="19.25" height="1" fill="#30e1da"/><rect x="627" y="193" width="19.25" height="1" fill="#30e1da"/><rect x="627" y="194" width="19.25" height="1" fill="#32e3da"/><rect x="627" y="195" width="19.25" height="1" fill="#34e4d9"/><rect x="627" y="196" width="19.25" height="1" fill="#34e4d9"/><rect x="627" y="197" width="19.25" height="1" fill="#36e6d8"/><rect x="627" y="198" width="19.25" height="1" fill="#39e7d7"/><rect x="627" y="199" width="19.25" height="1" fill="#39e7d7"/><rect x="627" y="200" width="19.25" height="1" fill="#3be8d6"/><rect x="627" y="201" width="19.25" height="1" fill="#3dead5"/><rect x="627" y="202" width="19.25" height="1" fill="#3dead5"/><rect x="627" y="203" width="19.25" height="1" fill="#3febd5"/><rect x="627" y="204" width="19.25" height="1" fill="#40ecd4"/><rect x="627" y="205" width="19.25" height="1" fill="#40ecd4"/><rect x="627" y="206" width="19.25" height="1" fill="#42edd3"/><rect x="627" y="207" width="19.25" height="1" fill="#44eed2"/><rect x="627" y="208" width="19.25" height="1" fill="#44eed2"/><rect x="627" y="209" width="19.25" height="1" fill="#46efd1"/><rect x="627" y="210" width="19.25" height="1" fill="#49f1d0"/><rect x="627" y="211" width="19.25" height="1" fill="#49f1d0"/><rect x="627" y="212" width="19.25" height="1" fill="#4bf2cf"/><rect x="627" y="213" width="19.25" height="1" fill="#4df3ce"/><rect x="627" y="214" width="19.25" height="1" fill="#4df3ce"/><rect x="627" y="215" width="19.25" height="1" fill="#4ef3cd"/><rect x="627" y="216" width="19.25" height="1" fill="#50f4cc"/><rect x="627" y="217" width="19.25" height="1" fill="#50f4cc"/><rect x="627" y="218" width="19.25" height="1" fill="#52f5cb"/><rect x="627" y="219" width="19.25" height="1" fill="#54f6cb"/><rect x="627" y="220" width="19.25" height="1" fill="#54f6cb"/><rect x="627" y="221" width="19.25" height="1" fill="#56f7ca"/><rect x="627" y="222" width="19.25" height="1" fill="#59f8c9"/><rect x="627" y="223" width="19.25" height="1" fill="#59f8c9"/><rect x="627" y="224" width="19.25" height="1" fill="#5bf8c8"/><rect x="627" y="225" width="19.25" height="1" fill="#5df9c7"/><rect x="627" y="226" width="19.25" height="1" fill="#5df9c7"/><rect x="627" y="227" width="19.25" height="1" fill="#5efac6"/><rect x="627" y="228" width="19.25" height="1" fill="#60fac5"/><rect x="627" y="229" width="19.25" height="1" fill="#60fac5"/><rect x="627" y="230" width="19.25" height="1" fill="#62fbc4"/><rect x="627" y="231" width="19.25" height="1" fill="#64fbc3"/><rect x="627" y="232" width="19.25" height="1" fill="#64fbc3"/><rect x="627" y="233" width="19.25" height="1" fill="#66fcc2"/><rect x="627" y="234" width="19.25" height="1" fill="#69fcc1"/><rect x="627" y="235" width="19.25" height="1" fill="#69fcc1"/><rect x="627" y="236" width="19.25" height="1" fill="#6bfdc0"/><rect x="627" y="237" width="19.25" height="1" fill="#6dfdbf"/><rect x="627" y="238" width="19.25" height="1" fill="#6dfdbf"/><rect x="627" y="239" width="19.25" height="1" fill="#6efebe"/><rect x="627" y="240" width="19.25" height="1" fill="#70febc"/><rect x="627" y="241" width="19.25" height="1" fill="#70febc"/><rect x="627" y="242" width="19.25" height="1" fill="#72febb"/><rect x="627" y="243" width="19.25" height="1" fill="#74feba"/><rect x="627" y="244" width="19.25" height="1" fill="#74feba"/><rect x="627" y="245" width="19.25" height="1" fill="#76ffb9"/><rect x="627" y="246" width="19.25" height="1" fill="#79ffb8"/><rect x="627" y="247" width="19.25" height="1" fill="#79ffb8"/><rect x="627" y="248" width="19.25" height="1" fill="#7bffb7"/><rect x="627" y="249" width="19.25" height="1" fill="#7dffb6"/><rect x="627" y="250" width="19.25" height="1" fill="#7dffb6"/><rect x="627" y="251" width="19.25" height="1" fill="#7effb5"/><rect x="627" y="252" width="19.25" height="1" fill="#80ffb4"/><rect x="627" y="253" width="19.25" height="1" fill="#80ffb4"/><rect x="627" y="254" width="19.25" height="1" fill="#82ffb3"/><rect x="627" y="255" width="19.25" height="1" fill="#82ffb3"/><rect x="627" y="256" width="19.25" height="1" fill="#84ffb2"/><rect x="627" y="257" width="19.25" height="1" fill="#86ffb0"/><rect x="627" y="258" width="19.25" height="1" fill="#86ffb0"/><rect x="627" y="259" width="19.25" height="1" fill="#88ffaf"/><rect x="627" y="260" width="19.25" height="1" fill="#8afeae"/><rect x="627" y="261" width="19.25" height="1" fill="#8afeae"/><rect x="627" y="262" width="19.25" height="1" fill="#8cfead"/><rect x="627" y="263" width="19.25" height="1" fill="#8efeac"/><rect x="627" y="264" width="19.25" height="1" fill="#8efeac"/><rect x="627" y="265" width="19.25" height="1" fill="#90feab"/><rect x="627" y="266" width="19.25" height="1" fill="#92fda9"/><rect x="627" y="267" width="19.25" height="1" fill="#92fda9"/><rect x="627" y="268" width="19.25" height="1" fill="#95fda8"/><rect x="627" y="269" width="19.25" height="1" fill="#97fca7"/><rect x="627" y="270" width="19.25" height="1" fill="#97fca7"/><rect x="627" y="271" width="19.25" height="1" fill="#99fca6"/><rect x="627" y="272" width="19.25" height="1" fill="#9bfba5"/><rect x="627" y="273" width="19.25" height="1" fill="#9bfba5"/><rect x="627" y="274" width="19.25" height="1" fill="#9cfba4"/><rect x="627" y="275" width="19.25" height="1" fill="#9efaa2"/><rect x="627" y="276" width="19.25" height="1" fill="#9efaa2"/><rect x="627" y="277" width="19.25" height="1" fill="#a0faa1"/><rect x="627" y="278" width="19.25" height="1" fill="#a2f9a0"/><rect x="627" y="279" width="19.25" height="1" fill="#a2f9a0"/><rect x="627" y="280" width="19.25" height="1" fill="#a4f89f"/><rect x="627" y="281" width="19.25" height="1" fill="#a6f89d"/><rect x="627" y="282" width="19.25" height="1" fill="#a6f89d"/><rect x="627" y="283" width="19.25" height="1" fill="#a8f79c"/><rect x="627" y="284" width="19.25" height="1" fill="#aaf69b"/><rect x="627" y="285" width="19.25" height="1" fill="#aaf69b"/><rect x="627" y="286" width="19.25" height="1" fill="#acf59a"/><rect x="627" y="287" width="19.25" height="1" fill="#aef498"/><rect x="627" y="288" width="19.25" height="1" fill="#aef498"/><rect x="627" y="289" width="19.25" height="1" fill="#b0f397"/><rect x="627" y="290" width="19.25" height="1" fill="#b2f396"/><rect x="627" y="291" width="19.25" height="1" fill="#b2f396"/><rect x="627" y="292" width="19.25" height="1" fill="#b5f295"/><rect x="627" y="293" width="19.25" height="1" fill="#b7f193"/><rect x="627" y="294" width="19.25" height="1" fill="#b7f193"/><rect x="627" y="295" width="19.25" height="1" fill="#b9ef92"/><rect x="627" y="296" width="19.25" height="1" fill="#bbee91"/><rect x="627" y="297" width="19.25" height="1" fill="#bbee91"/><rect x="627" y="298" width="19.25" height="1" fill="#bced8f"/><rect x="627" y="299" width="19.25" height="1" fill="#beec8e"/><rect x="627" y="300" width="19.25" height="1" fill="#beec8e"/><rect x="627" y="301" width="19.25" height="1" fill="#c0eb8d"/><rect x="627" y="302" width="19.25" height="1" fill="#c2ea8c"/><rect x="627" y="303" width="19.25" height="1" fill="#c2ea8c"/><rect x="627" y="304" width="19.25" height="1" fill="#c4e88a"/><rect x="627" y="305" width="19.25" height="1" fill="#c6e789"/><rect x="627" y="306" width="19.25" height="1" fill="#c6e789"/><rect x="627" y="307" width="19.25" height="1" fill="#c8e688"/><rect x="627" y="308" width="19.25" height="1" fill="#cae486"/><rect x="627" y="309" width="19.25" height="1" fill="#cae486"/><rect x="627" y="310" width="19.25" height="1" fill="#cce385"/><rect x="627" y="311" width="19.25" height="1" fill="#cee184"/><rect x="627" y="312" width="19.25" height="1" fill="#cee184"/><rect x="627" y="313" width="19.25" height="1" fill="#d0e082"/><rect x="627" y="314" width="19.25" height="1" fill="#d2de81"/><rect x="627" y="315" width="19.25" height="1" fill="#d2de81"/><rect x="627" y="316" width="19.25" height="1" fill="#d5dd7f"/><rect x="627" y="317" width="19.25" height="1" fill="#d7db7e"/><rect x="627" y="318" width="19.25" height="1" fill="#d7db7e"/><rect x="627" y="319" width="19.25" height="1" fill="#d9da7d"/><rect x="627" y="320" width="19.25" height="1" fill="#dbd87b"/><rect x="627" y="321" width="19.25" height="1" fill="#dbd87b"/><rect x="627" y="322" width="19.25" height="1" fill="#dcd67a"/><rect x="627" y="323" width="19.25" height="1" fill="#ded579"/><rect x="627" y="324" width="19.25" height="1" fill="#ded579"/><rect x="627" y="325" width="19.25" height="1" fill="#e0d377"/><rect x="627" y="326" width="19.25" height="1" fill="#e2d176"/><rect x="627" y="327" width="19.25" height="1" fill="#e2d176"/><rect x="627" y="328" width="19.25" height="1" fill="#e4cf74"/><rect x="627" y="329" width="19.25" height="1" fill="#e6cd73"/><rect x="627" y="330" width="19.25" height="1" fill="#e6cd73"/><rect x="627" y="331" width="19.25" height="1" fill="#e8cb72"/><rect x="627" y="332" width="19.25" height="1" fill="#eaca70"/><rect x="627" y="333" width="19.25" height="1" fill="#eaca70"/><rect x="627" y="334" width="19.25" height="1" fill="#ecc86f"/><rect x="627" y="335" width="19.25" height="1" fill="#eec66d"/><rect x="627" y="336" width="19.25" height="1" fill="#eec66d"/><rect x="627" y="337" width="19.25" height="1" fill="#f0c46c"/><rect x="627" y="338" width="19.25" height="1" fill="#f2c26b"/><rect x="627" y="339" width="19.25" height="1" fill="#f2c26b"/><rect x="627" y="340" width="19.25" height="1" fill="#f5c069"/><rect x="627" y="341" width="19.25" height="1" fill="#f7be68"/><rect x="627" y="342" width="19.25" height="1" fill="#f7be68"/><rect x="627" y="343" width="19.25" height="1" fill="#f9bb66"/><rect x="627" y="344" width="19.25" height="1" fill="#fbb965"/><rect x="627" y="345" width="19.25" height="1" fill="#fbb965"/><rect x="627" y="346" width="19.25" height="1" fill="#fcb763"/><rect x="627" y="347" width="19.25" height="1" fill="#feb562"/><rect x="627" y="348" width="19.25" height="1" fill="#feb562"/><rect x="627" y="349" width="19.25" height="1" fill="#ffb360"/><rect x="627" y="350" width="19.25" height="1" fill="#ffb05f"/><rect x="627" y="351" width="19.25" height="1" fill="#ffb05f"/><rect x="627" y="352" width="19.25" height="1" fill="#ffae5e"/><rect x="627" y="353" width="19.25" height="1" fill="#ffac5c"/><rect x="627" y="354" width="19.25" height="1" fill="#ffac5c"/><rect x="627" y="355" width="19.25" height="1" fill="#ffa95b"/><rect x="627" y="356" width="19.25" height="1" fill="#ffa759"/><rect x="627" y="357" width="19.25" height="1" fill="#ffa759"/><rect x="627" y="358" width="19.25" height="1" fill="#ffa558"/><rect x="627" y="359" width="19.25" height="1" fill="#ffa256"/><rect x="627" y="360" width="19.25" height="1" fill="#ffa256"/><rect x="627" y="361" width="19.25" height="1" fill="#ffa055"/><rect x="627" y="362" width="19.25" height="1" fill="#ff9d53"/><rect x="627" y="363" width="19.25" height="1" fill="#ff9d53"/><rect x="627" y="364" width="19.25" height="1" fill="#ff9b52"/><rect x="627" y="365" width="19.25" height="1" fill="#ff9850"/><rect x="627" y="366" width="19.25" height="1" fill="#ff9850"/><rect x="627" y="367" width="19.25" height="1" fill="#ff964f"/><rect x="627" y="368" width="19.25" height="1" fill="#ff934d"/><rect x="627" y="369" width="19.25" height="1" fill="#ff934d"/><rect x="627" y="370" width="19.25" height="1" fill="#ff914c"/><rect x="627" y="371" width="19.25" height="1" fill="#ff8e4a"/><rect x="627" y="372" width="19.25" height="1" fill="#ff8e4a"/><rect x="627" y="373" width="19.25" height="1" fill="#ff8c49"/><rect x="627" y="374" width="19.25" height="1" fill="#ff8947"/><rect x="627" y="375" width="19.25" height="1" fill="#ff8947"/><rect x="627" y="376" width="19.25" height="1" fill="#ff8646"/><rect x="627" y="377" width="19.25" height="1" fill="#ff8444"/><rect x="627" y="378" width="19.25" height="1" fill="#ff8444"/><rect x="627" y="379" width="19.25" height="1" fill="#ff8143"/><rect x="627" y="380" width="19.25" height="1" fill="#ff7e41"/><rect x="627" y="381" width="19.25" height="1" fill="#ff7e41"/><rect x="627" y="382" width="19.25" height="1" fill="#ff7b40"/><rect x="627" y="383" width="19.25" height="1" fill="#ff793e"/><rect x="627" y="384" width="19.25" height="1" fill="#ff793e"/><rect x="627" y="385" width="19.25" height="1" fill="#ff763d"/><rect x="627" y="386" width="19.25" height="1" fill="#ff733b"/><rect x="627" y="387" width="19.25" height="1" fill="#ff733b"/><rect x="627" y="388" width="19.25" height="1" fill="#ff703a"/><rect x="627" y="389" width="19.25" height="1" fill="#ff6d38"/><rect x="627" y="390" width="19.25" height="1" fill="#ff6d38"/><rect x="627" y="391" width="19.25" height="1" fill="#ff6b37"/><rect x="627" y="392" width="19.25" height="1" fill="#ff6835"/><rect x="627" y="393" width="19.25" height="1" fill="#ff6835"/><rect x="627" y="394" width="19.25" height="1" fill="#ff6533"/><rect x="627" y="395" width="19.25" height="1" fill="#ff6232"/><rect x="627" y="396" width="19.25" height="1" fill="#ff6232"/><rect x="627" y="397" width="19.25" height="1" fill="#ff5f30"/><rect x="627" y="398" width="19.25" height="1" fill="#ff5c2f"/><rect x="627" y="399" width="19.25" height="1" fill="#ff5c2f"/><rect x="627" y="400" width="19.25" height="1" fill="#ff592d"/><rect x="627" y="401" width="19.25" height="1" fill="#ff562c"/><rect x="627" y="402" width="19.25" height="1" fill="#ff562c"/><rect x="627" y="403" width="19.25" height="1" fill="#ff532a"/><rect x="627" y="404" width="19.25" height="1" fill="#ff5029"/><rect x="627" y="405" width="19.25" height="1" fill="#ff5029"/><rect x="627" y="406" width="19.25" height="1" fill="#ff4d27"/><rect x="627" y="407" width="19.25" height="1" fill="#ff4a26"/><rect x="627" y="408" width="19.25" height="1" fill="#ff4a26"/><rect x="627" y="409" width="19.25" height="1" fill="#ff4724"/><rect x="627" y="410" width="19.25" height="1" fill="#ff4422"/><rect x="627" y="411" width="19.25" height="1" fill="#ff4422"/><rect x="627" y="412" width="19.25" height="1" fill="#ff4121"/><rect x="627" y="413" width="19.25" height="1" fill="#ff3e1f"/><rect x="627" y="414" width="19.25" height="1" fill="#ff3e1f"/><rect x="627" y="415" width="19.25" height="1" fill="#ff3b1e"/><rect x="627" y="416" width="19.25" height="1" fill="#ff381c"/><rect x="627" y="417" width="19.25" height="1" fill="#ff381c"/><rect x="627" y="418" width="19.25" height="1" fill="#ff351b"/><rect x="627" y="419" width="19.25" height="1" fill="#ff3219"/><rect x="627" y="420" width="19.25" height="1" fill="#ff3219"/><rect x="627" y="421" width="19.25" height="1" fill="#ff2f18"/><rect x="627" y="422" width="19.25" height="1" fill="#ff2c16"/><rect x="627" y="423" width="19.25" height="1" fill="#ff2c16"/><rect x="627" y="424" width="19.25" height="1" fill="#ff2914"/><rect x="627" y="425" width="19.25" height="1" fill="#ff2613"/><rect x="627" y="426" width="19.25" height="1" fill="#ff2613"/><rect x="627" y="427" width="19.25" height="1" fill="#ff2211"/><rect x="627" y="428" width="19.25" height="1" fill="#ff1f10"/><rect x="627" y="429" width="19.25" height="1" fill="#ff1f10"/><rect x="627" y="430" width="19.25" height="1" fill="#ff1c0e"/><rect x="627" y="431" width="19.25" height="1" fill="#ff190d"/><rect x="627" y="432" width="19.25" height="1" fill="#ff190d"/><rect x="627" y="433" width="19.25" height="1" fill="#ff160b"/><rect x="627" y="434" width="19.25" height="1" fill="#ff1309"/><rect x="627" y="435" width="19.25" height="1" fill="#ff1309"/><rect x="627" y="436" width="19.25" height="1" fill="#ff1008"/><rect x="627" y="437" width="19.25" height="1" fill="#ff0d06"/><rect x="627" y="438" width="19.25" height="1" fill="#ff0d06"/><rect x="627" y="439" width="19.25" height="1" fill="#ff0905"/><rect x="627" y="440" width="19.25" height="1" fill="#ff0603"/><rect x="627" y="441" width="19.25" height="1" fill="#ff0603"/><rect x="627" y="442" width="19.25" height="1" fill="#ff0302"/><rect x="627" y="443" width="19.25" height="1" fill="#ff0000"/><rect x="627" y="444" width="19.25" height="1" fill="#ff0000"/>
</g>
<polyline fill="none" stroke="#000" stroke-width="2.083" stroke-linejoin="round" stroke-linecap="square" points="100.5,435.0 101.2,402.0 101.6,387.6 102.8,383.6 104.0,382.0 104.4,374.0 106.0,372.4 107.6,368.8 108.8,368.7 110.0,368.7 111.2,368.4 112.8,370.8 114.2,371.2 115.6,372.0 116.8,384.4 118.0,378.0 119.6,372.4 120.8,370.4 122.4,372.4 123.4,369.2 124.4,368.4 125.6,368.0 126.8,367.5 128.0,368.0 129.0,369.3 130.0,370.4 131.0,372.7 132.0,372.4 133.6,369.2 135.2,372.4 136.4,374.8 137.2,386.0 138.4,373.2 139.6,372.0 140.6,373.2 141.6,375.6 143.0,378.3 144.4,382.8 145.6,386.3 146.8,388.4 148.0,391.6 149.0,391.3 150.0,390.4 151.6,394.0 153.2,392.8 154.2,393.5 155.2,394.0 156.8,399.6 157.4,402.5 158.8,386.0 160.0,374.0 161.2,368.8 162.6,363.8 164.0,361.6 165.4,361.0 166.8,360.4 167.6,357.2 168.8,357.5 170.0,356.8 171.2,355.4 172.4,356.0 174.0,354.8 174.4,350.0 175.2,349.5 176.0,354.0 176.8,348.4 177.6,352.4 178.4,349.2 179.2,351.6 180.4,350.8 182.0,352.4 183.6,353.6 184.8,355.2 186.0,353.2 187.6,353.6 188.4,356.0 189.6,350.8 190.4,346.8 191.6,345.6 192.4,346.0 193.2,351.6 194.4,352.8 195.6,349.2 196.8,346.0 197.6,347.6 198.8,345.2 199.6,344.8 200.8,348.8 202.0,349.6 202.8,344.4 203.2,338.0 203.8,332.8 205.2,331.2 206.0,330.0 207.6,331.2 208.8,330.7 210.0,330.8 211.2,328.4 212.4,326.0 213.2,322.0 214.5,318.0 216.0,315.5 217.2,313.1 218.5,313.8 219.5,300.0 220.4,284.0 221.4,271.0 222.3,269.0 223.3,245.0 224.2,208.0 225.2,207.0 226.2,206.4 227.8,203.2 228.9,201.5 229.9,200.4 231.0,201.2 232.2,198.7 233.4,196.8 234.6,192.2 235.8,191.2 237.0,190.3 238.2,188.8 239.4,187.9 240.6,186.8 241.8,183.6 242.6,183.6 243.4,192.0 244.2,201.6 245.0,196.0 245.8,195.2 246.6,204.0 247.0,218.4 247.8,208.0 248.6,192.0 250.2,184.0 251.0,180.4 252.2,178.6 253.4,182.8 253.8,204.0 254.2,218.4 255.0,204.0 255.6,189.4 256.4,178.0 257.6,162.4 258.8,151.6 260.0,149.2 261.0,148.9 262.0,147.1 263.0,148.6 264.2,145.6 266.0,137.2 267.2,135.4 268.0,137.0 269.5,142.5 270.5,136.0 271.5,130.0 273.0,127.0 274.0,121.0 275.0,119.8 276.0,119.5 277.0,119.2 278.0,119.0 279.0,121.0 280.5,117.5 282.0,116.5 283.0,117.1 284.0,117.5 285.5,116.5 287.0,117.0 288.0,122.0 289.5,126.0 290.5,132.0 291.5,139.0 292.5,145.0 293.5,144.0 294.5,136.0 295.5,127.0 296.5,131.0 297.0,138.0 297.5,129.0 298.5,124.0 300.0,120.0 301.5,117.0 302.5,113.8 303.5,114.0 304.8,113.9 306.0,114.5 307.0,113.9 308.0,114.0 309.0,114.5 310.2,115.5 311.5,115.0 312.5,115.4 313.5,117.5 315.0,119.0 316.0,122.5 317.0,127.0 318.0,130.5 319.5,132.0 320.0,135.0 321.0,134.0 322.0,141.0 323.5,138.5 325.0,136.5 326.0,137.0 327.0,137.5 328.0,140.5 329.5,144.5 331.0,148.0 332.0,151.0 333.5,150.5 334.0,156.0 335.0,159.0 336.0,165.0 336.6,165.0 337.8,170.6 339.0,173.0 340.2,176.8 341.5,183.0 342.8,185.3 344.0,187.8 345.6,194.3 346.4,200.8 348.0,201.6 349.6,193.5 351.3,195.0 352.9,188.6 353.9,189.0 355.0,189.4 356.0,189.7 357.0,189.1 358.0,190.2 359.0,191.2 360.0,189.5 361.0,190.7 362.1,191.1 363.2,190.3 364.2,189.6 365.3,191.2 366.4,190.1 367.5,189.4 368.6,189.0 369.7,190.5 370.8,191.0 371.9,190.5 372.9,188.7 374.0,187.8 375.0,189.0 376.0,189.0 377.6,193.5 378.9,189.4 380.1,187.6 381.3,186.0 382.6,187.0 383.8,187.0 384.8,187.7 385.8,185.6 386.8,185.9 387.8,185.3 388.9,185.0 389.9,185.4 391.0,185.3 392.2,185.4 393.5,187.8 394.8,188.8 396.0,191.0 397.6,194.3 399.2,203.2 400.0,197.5 401.7,192.6 403.3,200.8 404.5,200.0 405.7,193.5 406.5,200.0 407.7,189.4 409.0,187.0 410.1,221.9 411.0,191.0 412.0,190.0 413.0,189.4 414.1,189.1 415.2,188.2 416.3,186.0 417.4,184.5 418.4,184.4 419.5,184.5 420.5,184.3 421.6,181.2 422.6,181.7 423.6,181.3 424.6,181.0 425.6,181.7 426.7,181.1 427.7,180.4 428.7,180.4 429.6,180.5 430.6,180.8 431.5,182.1 432.5,181.3 433.6,181.7 434.7,182.6 435.8,183.7 436.9,183.4 437.9,182.5 439.0,182.0 440.2,182.7 441.5,183.7 442.8,181.9 444.0,182.0 445.0,182.1 445.9,181.9 446.9,183.0 447.8,182.8 448.8,182.5 450.0,183.0 451.0,182.9 452.0,183.2 453.0,182.4 454.0,182.5 455.5,179.0 456.5,177.0 457.8,178.6 459.0,178.5 460.5,176.5 461.8,176.7 463.0,177.0 464.0,177.7 465.0,176.6 466.0,178.0 467.0,178.0 468.0,176.7 469.0,176.3 470.0,177.5 471.2,176.8 472.5,176.5 473.5,176.1 474.5,177.0 475.5,179.5 476.5,180.1 477.5,180.5 479.0,181.5 479.5,187.0 480.0,192.0 481.0,199.0 482.0,204.0 482.5,210.0 483.5,214.0 484.0,220.0 483.8,222.0 484.5,227.0 485.0,233.0 486.5,237.0 487.5,244.0 488.5,252.0 489.0,260.0 489.5,266.0 490.0,270.0 491.5,269.0 493.0,264.0 494.0,265.0 495.0,269.5 496.0,269.0 496.2,262.0 496.5,252.0 496.8,242.0 497.2,234.0 498.0,230.0 498.1,222.0 498.5,210.0 499.5,208.0 500.0,204.0 501.5,203.0 502.0,190.0 503.5,186.0 505.0,187.5 506.5,185.0 507.8,186.8 509.0,185.5 510.0,184.0 511.0,184.0 512.0,182.7 513.0,182.5 514.0,183.2 515.0,183.5 516.0,184.7 517.0,185.0 518.0,185.1 519.0,185.2 520.0,185.5 521.5,189.0 522.5,197.0 523.5,210.0 524.0,220.0 524.5,205.0 525.5,196.0 526.5,189.0 527.5,187.5 528.8,189.1 530.0,189.5 531.1,189.5 532.1,188.0 533.2,188.4 534.2,188.4 535.1,188.4 536.1,187.8 537.1,188.6 538.1,187.9 539.0,189.0 540.0,188.4 541.0,188.5 542.0,188.5 543.0,188.0 544.0,188.4 545.2,190.0 546.0,192.0 547.2,192.8 548.0,195.6 548.8,198.4 549.9,198.5 550.9,197.4 552.0,198.8 553.1,198.1 554.1,199.0 555.2,198.8 556.4,197.8 557.6,200.0 558.8,200.9 560.0,200.6 561.4,199.7 562.8,201.2 563.6,205.6 564.8,208.0 566.4,203.2 568.0,201.4 569.1,202.0 570.1,201.1 571.2,201.8 572.4,202.9 573.6,202.8 574.8,208.8 575.6,204.0 577.2,203.8 578.2,204.6 579.2,205.2 580.4,206.4 580.8,212.0 581.6,220.0 582.0,240.0 582.5,255.0 583.0,265.0 583.6,266.0 584.0,275.0 584.6,282.0 585.0,290.0 585.5,293.0 586.2,295.7 588.0,297.5 588.7,300.7 590.0,309.5 591.2,319.5 592.2,330.7 593.0,343.0 594.0,372.5 595.5,404.0"/>
<g stroke="#000" stroke-width="1.11" fill="none" stroke-linecap="butt">
<rect x="100.5" y="60.5" width="496" height="385"/>
<rect x="627.5" y="60.5" width="19" height="385"/>
<path d="M100.5 445.5v5M195.5 445.5v5M291.5 445.5v5M386.5 445.5v5M482.5 445.5v5M577.5 445.5v5M100.5 445.5h-5M100.5 391.5h-5M100.5 337.5h-5M100.5 283.5h-5M100.5 230.5h-5M100.5 176.5h-5M100.5 122.5h-5M100.5 69.5h-5M646.5 445.5h5M646.5 368.5h5M646.5 291.5h5M646.5 214.5h5M646.5 137.5h5M646.5 60.5h5"/>
</g>
<text x="100.31" y="465.52" font-size="13.889" text-anchor="middle">0</text>
<text x="195.17" y="465.98" font-size="13.889" text-anchor="middle">100</text>
<text x="291.17" y="465.97" font-size="13.889" text-anchor="middle">200</text>
<text x="386.04" y="465.92" font-size="13.889" text-anchor="middle">300</text>
<text x="482.06" y="465.88" font-size="13.889" text-anchor="middle">400</text>
<text x="577.02" y="465.95" font-size="13.889" text-anchor="middle">500</text>
<text x="90.88" y="449.51" font-size="13.889" text-anchor="end">0</text>
<text x="90.37" y="396.75" font-size="13.889" text-anchor="end">200</text>
<text x="90.32" y="342.99" font-size="13.889" text-anchor="end">400</text>
<text x="90.51" y="288.52" font-size="13.889" text-anchor="end">600</text>
<text x="90.44" y="235.70" font-size="13.889" text-anchor="end">800</text>
<text x="90.14" y="181.98" font-size="13.889" text-anchor="end">1000</text>
<text x="90.17" y="127.80" font-size="13.889" text-anchor="end">1200</text>
<text x="90.17" y="74.51" font-size="13.889" text-anchor="end">1400</text>
<text x="655.97" y="449.99" font-size="13.889" text-anchor="start">0.0</text>
<text x="656.82" y="373.50" font-size="13.889" text-anchor="start">0.2</text>
<text x="656.65" y="295.87" font-size="13.889" text-anchor="start">0.4</text>
<text x="656.77" y="219.68" font-size="13.889" text-anchor="start">0.6</text>
<text x="656.20" y="141.99" font-size="13.889" text-anchor="start">0.8</text>
<text x="655.98" y="65.93" font-size="13.889" text-anchor="start">1.0</text>
<text x="347.54" y="484.74" font-size="13.889" text-anchor="middle">Positions</text>
<text transform="translate(45.60 254.16) rotate(-90)" font-size="13.889" text-anchor="middle">Sequences</text>
<text transform="translate(693.67 253.79) rotate(-90)" font-size="13.889" text-anchor="middle">Sequence identity to query</text>
<text x="348.07" y="50.79" font-size="16.667" text-anchor="middle" stroke="#000" stroke-width="0.2">Sequence coverage</text>
</svg>
</body></html>
